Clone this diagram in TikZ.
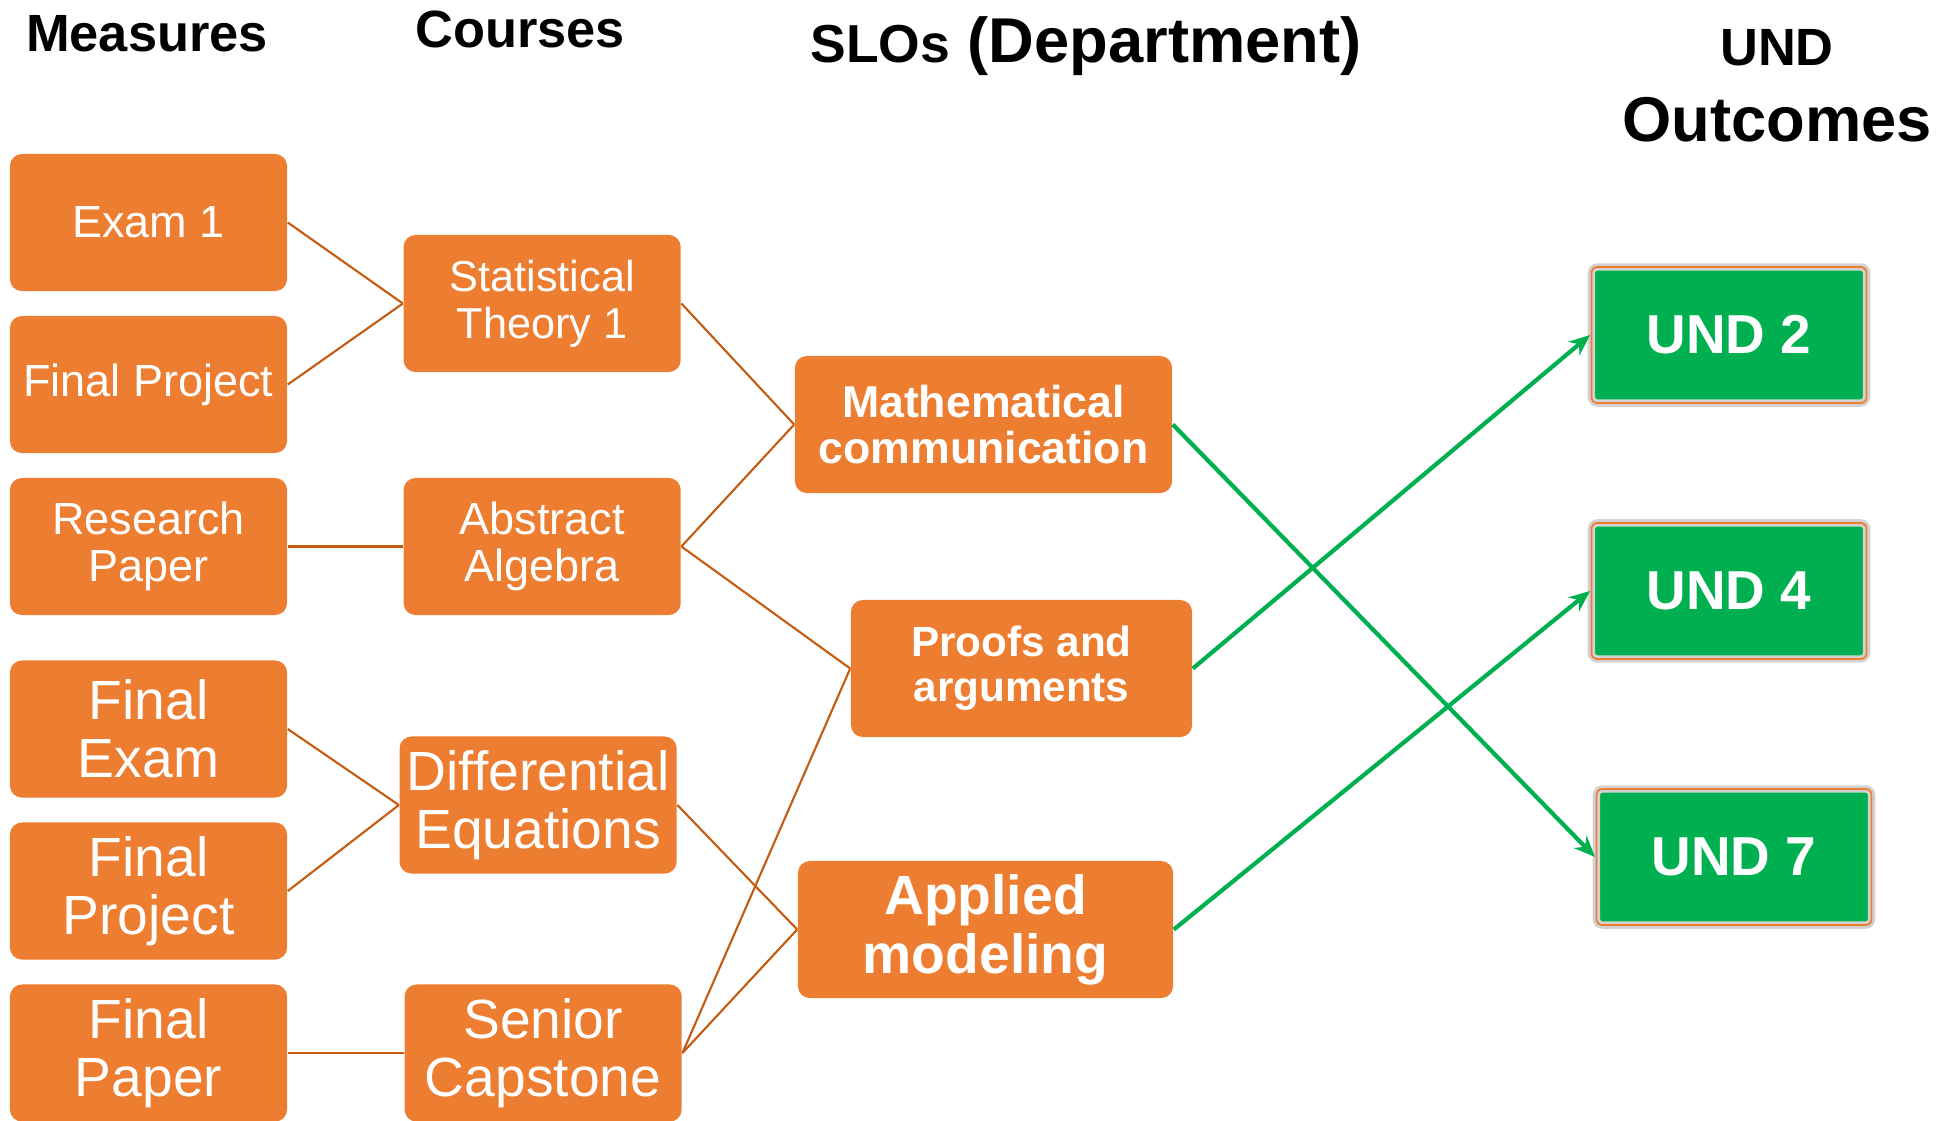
\documentclass[tikz,border=0pt]{standalone}
\usepackage{fontspec}
\setmainfont{Liberation Sans}
\usetikzlibrary{positioning, arrows.meta, calc}

\definecolor{boxorange}{HTML}{ED7D31}
\definecolor{linkorange}{HTML}{C55A11}
\definecolor{undgreen}{HTML}{00B050}

\begin{document}
\begin{tikzpicture}[
  x=0.01cm, y=-0.01cm,
  header/.style={anchor=base, inner sep=0pt, font=\bfseries\fontsize{14.9}{16}\selectfont},
  measure/.style={
    fill=boxorange, rounded corners=0.12cm, text=white, align=center,
    minimum width=2.77cm, minimum height=1.37cm, inner sep=0pt,
    font=\fontsize{12.8}{13.4}\selectfont
  },
  bigmeasure/.style={measure, font=\fontsize{15.7}{16.4}\selectfont},
  slo/.style={measure, font=\bfseries\fontsize{12.7}{13}\selectfont},
  outcome/.style={
    fill=undgreen, draw=gray!35, double=boxorange, double distance=0.5pt,
    line width=0.8pt, rounded corners=0.06cm, text=white,
    minimum width=2.75cm, minimum height=1.36cm,
    font=\bfseries\fontsize{15.6}{17}\selectfont
  },
  link/.style={draw=linkorange, line width=0.6pt},
  arrow/.style={-{Stealth[length=6pt, width=5pt]}, draw=undgreen, line width=1.2pt},
]
\useasboundingbox (0,0) rectangle (1951,1120);

\node[header] (hmeasures) at (147,51) {Measures};
\node[header] (hcourses) at (520,47) {Courses};
\node[header, font=\bfseries\fontsize{18}{20}\selectfont] (hslos) at (1086,62)
  {{\fontsize{15.2}{17}\selectfont SLOs} (Department)};
\node[header] (hund) at (1777,65) {UND};
\node[header, font=\bfseries\fontsize{18}{20}\selectfont] (houtcomes) at (1777,141) {Outcomes};

\node[measure] (exam) at (148.5,222.5) {Exam 1};
\node[measure, below=0.235cm of exam] (proj) {Final Project};
\node[measure, below=0.235cm of proj] (paper) {Research\\Paper};
\node[bigmeasure, below=0.44cm of paper] (fexam) {Final\\Exam};
\node[bigmeasure, below=0.235cm of fexam] (fproj) {Final\\Project};
\node[bigmeasure, below=0.235cm of fproj] (fpaper) {Final\\Paper};

\coordinate (pstats) at ($(exam.east)!0.5!(proj.east)$);
\coordinate (pdiffeq) at ($(fexam.east)!0.5!(fproj.east)$);
\node[measure, font=\fontsize{12.3}{13.4}\selectfont, right=1.15cm of pstats] (stats) {Statistical\\Theory 1};
\node[measure, right=1.15cm of paper] (algebra) {Abstract\\Algebra};
\node[bigmeasure, right=1.11cm of pdiffeq, yshift=0.05cm] (diffeq) {Differential\\Equations};
\node[bigmeasure, right=1.16cm of fpaper] (capstone) {Senior\\Capstone};

\node[slo, minimum width=3.77cm] (comm) at (983.5,424.5) {Mathematical\\communication};
\node[slo, minimum width=3.41cm, font=\bfseries\fontsize{12}{12.8}\selectfont] (proofs) at (1021.5,668.5) {Proofs and\\arguments};
\node[slo, minimum width=3.75cm, font=\bfseries\fontsize{15.7}{16.8}\selectfont] (model) at (985.5,929.5) {Applied\\modeling};

\node[outcome] (und2) at (1729,335) {UND 2};
\node[outcome, below=1.17cm of und2] (und4) {UND 4};
\node[outcome] (und7) at (1734,857) {UND 7};

\draw[link] (exam.east) -- (stats.west);
\draw[link] (proj.east) -- (stats.west);
\draw[link] (paper) -- (algebra);
\draw[link] (fexam.east) -- (diffeq.west);
\draw[link] (fproj.east) -- (diffeq.west);
\draw[link] (fpaper) -- (capstone);
\draw[link] (stats.east) -- (comm.west);
\draw[link] (algebra.east) -- (comm.west);
\draw[link] (algebra.east) -- (proofs.west);
\draw[link] (diffeq.east) -- (model.west);
\draw[link] (capstone.east) -- (proofs.west);
\draw[link] (capstone.east) -- (model.west);

\draw[arrow] (comm.east) -- (und7.west);
\draw[arrow] (proofs.east) -- (und2.west);
\draw[arrow] (model.east) -- (und4.west);

\end{tikzpicture}
\end{document}
